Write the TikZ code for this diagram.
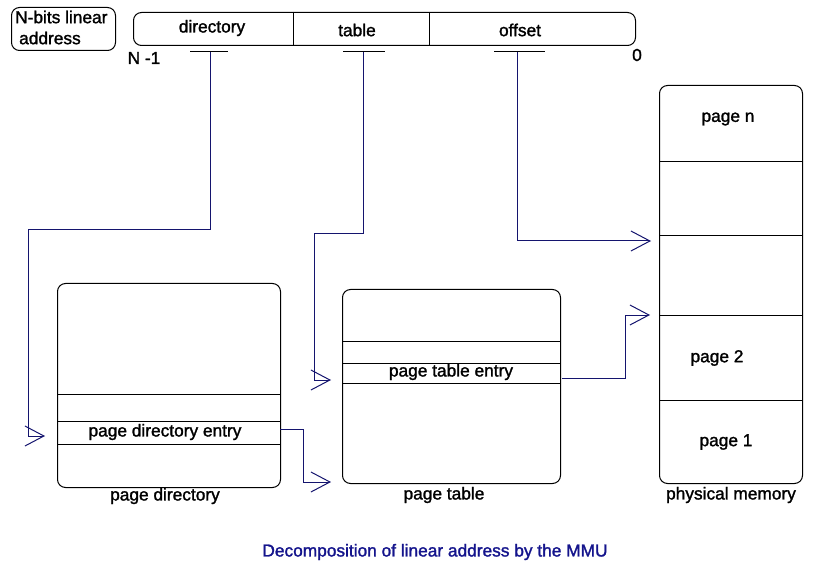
\documentclass[tikz,border=0pt]{standalone}
\usepackage{fontspec}
\setmainfont{Liberation Sans}
\newfontfamily\lblfont[FakeBold=1.5]{Liberation Sans}
\usetikzlibrary{arrows.meta}
\definecolor{navy}{RGB}{20,20,110}
\definecolor{titleblue}{RGB}{20,20,140}
\begin{document}
\begin{tikzpicture}[x=1pt,y=-1pt,
  box/.style={draw=black,line width=1pt,rounded corners=8pt},
  sep/.style={draw=black,line width=1pt},
  conn/.style={draw=navy,line width=1pt},
  arr/.style={conn,-{Straight Barb[length=19pt,width=20pt,line width=1pt]}},
  lbl/.style={font=\lblfont\fontsize{17.3}{20}\selectfont,inner sep=0pt}]
\useasboundingbox (0,0) rectangle (817,572);
% N-bits box
\node[box,minimum width=104pt,minimum height=43pt,anchor=north west] (nb) at (11,7) {};
\node[lbl,anchor=west] (nbt1) at (15,17) {N-bits linear};
\node[lbl,anchor=west] (nbt2) at (19,38) {address};
% address bar
\node[box,minimum width=502pt,minimum height=33pt,anchor=north west] (bar) at (133,12) {};
\draw[sep] (293,12) -- (293,45);
\draw[sep] (429,12) -- (429,45);
\node[lbl] (dir) at (212,28) {directory};
\node[lbl] (tab) at (357,30) {table};
\node[lbl] (off) at (520,30) {offset};
\node[lbl] (nm1) at (144,58) {N -1};
\node[lbl] (zero) at (637,55) {0};
% T bars
\draw[sep] (190,52) -- (228,52);
\draw[sep] (343,52) -- (385,52);
\draw[sep] (494,52) -- (545,52);
% page directory
\node[box,minimum width=223pt,minimum height=204pt,anchor=north west] (pd) at (57,283) {};
\draw[sep] (57,394) -- (280,394);
\draw[sep] (57,421) -- (280,421);
\draw[sep] (57,444) -- (280,444);
\node[lbl] (pde) at (165,432) {page directory entry};
\node[lbl] (pdl) at (165,496) {page directory};
% page table
\node[box,minimum width=218pt,minimum height=194pt,anchor=north west] (pt) at (342,289) {};
\draw[sep] (342,341) -- (560,341);
\draw[sep] (342,363) -- (560,363);
\draw[sep] (342,383) -- (560,383);
\node[lbl] (pte) at (451,372) {page table entry};
\node[lbl] (ptl) at (444,495) {page table};
% physical memory
\node[box,minimum width=143pt,minimum height=398pt,anchor=north west] (pm) at (659,85) {};
\draw[sep] (659,162) -- (802,162);
\draw[sep] (659,236) -- (802,236);
\draw[sep] (659,315) -- (802,315);
\draw[sep] (659,400) -- (802,400);
\node[lbl] (pgn) at (728,119) {page n};
\node[lbl] (pg2) at (717,358) {page 2};
\node[lbl] (pg1) at (726,442) {page 1};
\node[lbl] (pml) at (731,495) {physical memory};
% connectors
\coordinate (d0) at (210,52);
\coordinate (d1) at (45,436);
\draw[arr] (d0) -- (210,230) -- (28,230) -- (28,436) -- (d1);
\coordinate (t0) at (363,52);
\coordinate (t1) at (331,380);
\draw[arr] (t0) -- (363,234) -- (314,234) -- (314,380) -- (t1);
\coordinate (o0) at (517,52);
\coordinate (o1) at (651,241);
\draw[arr] (o0) -- (517,241) -- (o1);
\coordinate (p0) at (280,429);
\coordinate (p1) at (331,482);
\draw[arr] (p0) -- (303,429) -- (303,482) -- (p1);
\coordinate (q0) at (562,378);
\coordinate (q1) at (650,315);
\draw[arr] (q0) -- (625,378) -- (625,315) -- (q1);
% title
\node[lbl,text=titleblue] (title) at (435,552) {Decomposition of linear address by the MMU};
\end{tikzpicture}
\end{document}
